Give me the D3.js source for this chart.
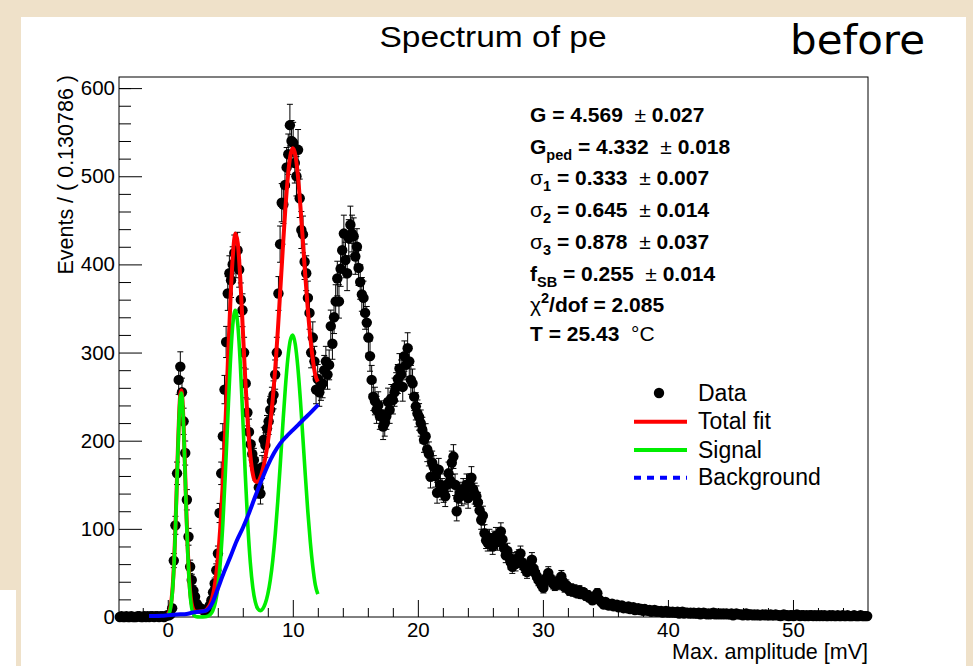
<!DOCTYPE html>
<html><head><meta charset="utf-8">
<script src="https://cdn.jsdelivr.net/npm/d3@7"></script>
<style>
body{margin:0;background:#efe1c9;overflow:hidden}
svg{display:block}
</style>
</head><body>
<svg id="c" width="973" height="666"></svg>
<script>
// ---------------- data ----------------
const binStart = -3.9;
const binWidth = 0.130786;
const counts = [
0,1,0,0,1,0,0,1,0,0,
0,1,1,0,0,1,0,1,0,1,
1,0,1,1,0,1,1,0,1,2,
2,3,10,64,104,163,269,284,255,222,
186,133,91,57,42,30,23,15,12,10,
9,8,7,8,10,13,19,28,38,53,
72,118,163,205,258,312,367,390,382,400,
413,405,416,394,360,348,300,265,232,210,
196,185,178,168,160,147,140,170,201,195,
214,222,235,245,252,275,300,367,423,470,
468,490,510,525,558,540,538,515,500,530,
475,439,434,403,390,362,345,300,317,290,
258,270,255,262,265,280,290,275,286,330,
310,340,358,384,358,395,416,435,405,390,
430,445,435,432,409,420,396,380,366,362,
345,334,317,296,269,250,245,235,240,228,
230,216,220,228,244,235,248,246,255,261,
270,282,275,261,296,286,305,290,269,265,
250,239,231,227,220,212,201,205,190,185,
159,175,170,160,141,167,150,145,142,137,
150,163,155,175,182,150,120,135,141,138,
145,140,150,135,150,158,145,140,137,130,
121,110,115,95,87,84,90,85,80,88,
92,85,90,97,88,78,70,75,68,62,
57,65,60,66,68,72,62,58,55,51,
56,60,65,55,50,46,42,40,36,33,
40,45,50,44,41,38,36,40,37,42,
46,40,34,36,33,30,32,29,31,28,
27,30,26,28,27,24,25,22,23,19,
21,24,27,20,18,16,14,17,15,13,
14,15,12,13,14,11,12,13,10,11,
10,12,9,10,11,8,9,10,8,9,
7,9,8,7,8,6,7,8,6,7,
6,7,5,6,7,5,6,5,6,5,
5,6,4,5,6,4,5,5,4,5,
4,5,4,4,5,3,4,5,4,3,
4,3,4,5,3,4,3,4,3,4,
3,4,3,3,4,2,3,4,3,3,
3,2,3,4,2,3,3,2,3,2,
3,2,2,3,2,3,2,2,3,2,
2,3,2,2,1,2,3,2,2,1,
2,2,1,2,3,2,1,2,2,1,
2,1,2,2,1,2,1,2,1,2,
1,2,1,1,2,1,2,1,1,2,
1,1,2,1,1,2,1,1,1,2,
1,1,1,2,1,1,1,1
];

const fitX = [0.0,0.1,0.2,0.3,0.4,0.5,0.6,0.7,0.8,0.9,1.0,1.1,1.2,1.3,1.4,1.5,1.6,1.7,1.8,1.9,2.0,2.1,2.2,
  2.4,2.6,2.8,3.0,3.2,3.4,3.6,3.8,4.0,4.2,4.4,4.6,4.8,5.0,5.2,5.4,5.6,5.8,6.0,6.2,6.4,6.6,6.8,7.0,
  7.2,7.4,7.6,7.8,8.0,8.2,8.4,8.6,8.8,9.0,9.2,9.4,9.6,9.8,10.0,10.2,10.4,10.6,10.8,11.0,11.2,11.4,11.6,11.8,12.0];
const totalFit = [3.5,5.7,10.4,19.6,35.9,61.4,96.7,140.1,186.4,226.8,252.4,257.1,239.5,204.2,159.5,114.3,75.7,46.7,27.5,16.1,10.2,7.3,6.2,
  5.9,6.2,6.7,7.3,10,14.8,24.1,40,65,101.7,151.6,215.3,286.8,355.1,409,435,424,384,326.8,269.3,219.7,183.9,162.5,154.1,
  153.3,158.2,167.4,180.4,197.9,219.9,247.7,282.7,324.7,370.8,417.8,462.2,498.8,523,531.8,524.2,501.8,467.4,427.7,386.8,348.9,317,292.1,274.5,267];
const signal = [1.5,3.7,8.4,17.6,33.7,58.9,94.2,137.5,183.6,223.8,249.4,254,236.3,200.9,156.1,110.8,71.9,42.6,23.1,11.4,5.2,2.1,0.8,
  0.1,0.05,0.1,0.3,1.0,2.8,7.1,16.0,33.0,61.7,104.6,161.3,225.8,287.1,331.6,348,331.6,287.1,225.8,161.3,104.7,61.9,33.5,17.1,
  9.3,7.2,9.4,15.4,25.9,41.9,64.7,94.7,131.7,173.8,217.8,259.2,292.8,314.0,319.8,309.2,283.8,247.4,204.7,160.8,119.9,85.0,57.1,36.5,26];
const bgX = [-1.5,-1.0,-0.5,0,0.5,1.0,1.5,2.0,2.5,3.0,3.3,3.6,4.0,4.5,5.0,5.5,6.0,6.5,7.0,7.5,8.0,8.5,9.0,9.5,10.0,10.5,11.0,11.5,12.05];
const background = [1,1.2,1.5,2,2.5,3,3.5,5,6,7,10,17,32,51,68,86,101,118,137,155,172,186,197,205,212,219,226,233,241];

const xTicks = [0,10,20,30,40,50];
const xMinor = [-2,2,4,6,8,12,14,16,18,22,24,26,28,32,34,36,38,42,44,46,48,52,54];
const yTicks = [0,100,200,300,400,500,600];
const yMinor = [20,40,60,80,120,140,160,180,220,240,260,280,320,340,360,380,420,440,460,480,520,540,560,580,600];

const statLines = [
  [["G = 4.569  ","b"],["±","s"],[" 0.027","b"]],
  [["G","b"],["ped","sub"],[" = 4.332  ","b"],["±","s"],[" 0.018","b"]],
  [["σ","s"],["1","sub"],[" = 0.333  ","b"],["±","s"],[" 0.007","b"]],
  [["σ","s"],["2","sub"],[" = 0.645  ","b"],["±","s"],[" 0.014","b"]],
  [["σ","s"],["3","sub"],[" = 0.878  ","b"],["±","s"],[" 0.037","b"]],
  [["f","b"],["SB","sub"],[" = 0.255  ","b"],["±","s"],[" 0.014","b"]],
  [["χ","s"],["2","sup"],["/dof = 2.085","b"]],
  [["T = 25.43  ","b"],["°C","s"]]
];
const legendLabels = ["Data","Total fit","Signal","Background"];
const legendColors = [null,"#ff0000","#00ee00","#0000ff"];

// ---------------- drawing ----------------
const FONT = "'Liberation Sans', Arial, Helvetica, sans-serif";
const svg = d3.select("#c");
svg.append("rect").attr("x",21).attr("y",17).attr("width",945).attr("height",649).attr("fill","#ffffff");
svg.append("rect").attr("x",0).attr("y",590).attr("width",16).attr("height",76).attr("fill","#ffffff");

const L=119, R=868, T=77, B=617;
const x = d3.scaleLinear().domain([-3.9, 56.0]).range([L, R]);
const y = d3.scaleLinear().domain([0, 612.6]).range([B, T]);

// title
svg.append("text").attr("x",493).attr("y",47).attr("text-anchor","middle")
  .attr("font-family",FONT).attr("font-size",30).attr("textLength",227).attr("lengthAdjust","spacingAndGlyphs")
  .text("Spectrum of pe");
svg.append("text").attr("x",790).attr("y",54)
  .attr("font-family","'DejaVu Sans', sans-serif").attr("font-size",40).attr("textLength",135).attr("lengthAdjust","spacingAndGlyphs")
  .text("before");

// axes
const gx = svg.append("g").attr("transform",`translate(0,${B})`)
  .call(d3.axisBottom(x).tickValues(xTicks).tickSizeInner(-17).tickSizeOuter(0).tickPadding(6));
const gxm = svg.append("g").attr("transform",`translate(0,${B})`)
  .call(d3.axisBottom(x).tickValues(xMinor).tickSizeInner(-9).tickSizeOuter(0).tickFormat(""));
const gy = svg.append("g").attr("transform",`translate(${L},0)`)
  .call(d3.axisLeft(y).tickValues(yTicks).tickSizeInner(-23).tickSizeOuter(0).tickPadding(4));
const gym = svg.append("g").attr("transform",`translate(${L},0)`)
  .call(d3.axisLeft(y).tickValues(yMinor).tickSizeInner(-12).tickSizeOuter(0).tickFormat(""));
[gx,gxm,gy,gym].forEach(g=>{
  g.select(".domain").remove();
  g.selectAll("line").attr("stroke","#000").attr("stroke-width",1);
  g.selectAll("text").attr("font-family",FONT).attr("font-size",20.5).attr("fill","#000");
});
gx.selectAll("text").attr("dy","0.68em");

// frame
svg.append("rect").attr("x",L).attr("y",T).attr("width",R-L).attr("height",B-T)
  .attr("fill","none").attr("stroke","#000").attr("stroke-width",1);

// axis titles
svg.append("text").attr("transform","translate(73,75) rotate(-90)").attr("text-anchor","end")
  .attr("font-family",FONT).attr("font-size",21.5).text("Events / ( 0.130786 )");
svg.append("text").attr("x",R).attr("y",659).attr("text-anchor","end")
  .attr("font-family",FONT).attr("font-size",21.5).text("Max. amplitude [mV]");

// data
const pts = counts.map((c,i)=>({x: binStart + (i+0.5)*binWidth, c}));
const gd = svg.append("g");
pts.filter(d=>d.c>0).forEach(d=>{
  const e = Math.sqrt(d.c);
  const px = x(d.x), y1 = y(d.c+e), y0 = y(Math.max(0,d.c-e));
  gd.append("line").attr("x1",px).attr("x2",px).attr("y1",y1).attr("y2",y0).attr("stroke","#000").attr("stroke-width",1);
  gd.append("line").attr("x1",px-3).attr("x2",px+3).attr("y1",y1).attr("y2",y1).attr("stroke","#000").attr("stroke-width",1);
  gd.append("line").attr("x1",px-3).attr("x2",px+3).attr("y1",y0).attr("y2",y0).attr("stroke","#000").attr("stroke-width",1);
});
gd.selectAll("circle").data(pts).join("circle")
  .attr("cx",d=>x(d.x)).attr("cy",d=>y(d.c)).attr("r",5.2).attr("fill","#000");

// curves
const line = d3.line().x(d=>x(d[0])).y(d=>y(d[1])).curve(d3.curveMonotoneX);
svg.append("path").attr("d",line(fitX.map((v,i)=>[v,totalFit[i]])))
  .attr("fill","none").attr("stroke","#ff0000").attr("stroke-width",4);
svg.append("path").attr("d",line(fitX.map((v,i)=>[v,signal[i]])))
  .attr("fill","none").attr("stroke","#00ee00").attr("stroke-width",3.6);
svg.append("path").attr("d",line(bgX.map((v,i)=>[v,background[i]])))
  .attr("fill","none").attr("stroke","#0000ff").attr("stroke-width",4);

// stats
const baselines = [122,153.5,185,217,249,281,312,341];
statLines.forEach((segs,li)=>{
  const t = svg.append("text").attr("x",530).attr("y",baselines[li])
    .attr("font-family",FONT).attr("font-size",21).style("white-space","pre");
  let shift = 0;
  segs.forEach(([s,k])=>{
    const ts = t.append("tspan").text(s);
    let target = 0;
    if(k==="sub"){ target = 6; ts.attr("font-size",14.5).attr("font-weight","bold"); }
    else if(k==="sup"){ target = -9; ts.attr("font-size",14.5).attr("font-weight","bold"); }
    else if(k==="b"){ ts.attr("font-weight","bold"); }
    else { ts.attr("font-weight","normal"); }
    ts.attr("dy", target-shift);
    shift = target;
  });
});

// legend
const legY = [393,421.7,450,477.7];
legendLabels.forEach((lab,i)=>{
  if(i===0){
    svg.append("circle").attr("cx",659).attr("cy",legY[i]).attr("r",5.2).attr("fill","#000");
  } else {
    const l = svg.append("line").attr("x1",634).attr("x2",687).attr("y1",legY[i]).attr("y2",legY[i])
      .attr("stroke",legendColors[i]).attr("stroke-width",4);
    if(i===3) l.attr("stroke-dasharray","7,6");
  }
  svg.append("text").attr("x",698).attr("y",legY[i]+7.5).attr("font-family",FONT).attr("font-size",23).text(lab);
});
</script>
</body></html>
